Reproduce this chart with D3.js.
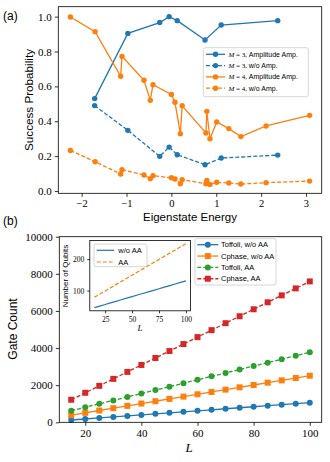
<!DOCTYPE html>
<html>
<head>
<meta charset="utf-8">
<script src="https://cdn.jsdelivr.net/npm/d3@7"></script>
<style>
  body { margin: 0; background: #fff; }
  svg { display: block; }
  .tick text { font-family: 'Liberation Serif', serif; }
</style>
</head>
<body>
<div id="chart"></div>
<script>
// panel (a)
const energyM3 = [-1.71, -0.97, -0.26, -0.05, 0.13, 0.75, 1.11, 2.37];
const probM3Amp = [0.53, 0.904, 0.966, 1.0, 0.977, 0.866, 0.952, 0.977];
const probM3NoAmp = [0.49, 0.348, 0.199, 0.252, 0.208, 0.151, 0.189, 0.206];
const energyM4 = [-2.25, -1.70, -1.13, -1.10, -0.61, -0.47, -0.41, 0.0, 0.08, 0.20, 0.24, 0.77, 0.79, 0.86, 1.01, 1.28, 1.55, 2.11, 3.08];
const probM4Amp = [0.998, 0.914, 0.658, 0.772, 0.635, 0.52, 0.61, 0.554, 0.509, 0.329, 0.489, 0.333, 0.457, 0.30, 0.396, 0.358, 0.312, 0.373, 0.434];
const probM4NoAmp = [0.233, 0.168, 0.098, 0.122, 0.092, 0.071, 0.088, 0.076, 0.069, 0.042, 0.065, 0.042, 0.061, 0.038, 0.050, 0.046, 0.040, 0.048, 0.057];
const legendA = ['3, Amplitude Amp.', '3, w/o Amp.', '4, Amplitude Amp.', '4, w/o Amp.'];

// panel (b)
const sizeL = [15, 20, 25, 30, 35, 40, 45, 50, 55, 60, 65, 70, 75, 80, 85, 90, 95, 100];
const toffoliNoAA = [124, 179, 234, 289, 344, 399, 454, 509, 564, 619, 674, 729, 784, 839, 894, 949, 1004, 1059];
const cphaseNoAA = [385, 510, 635, 760, 885, 1010, 1135, 1260, 1385, 1510, 1635, 1760, 1885, 2010, 2135, 2260, 2385, 2510];
const toffoliAA = [625, 810, 995, 1180, 1365, 1550, 1735, 1920, 2105, 2290, 2475, 2660, 2845, 3030, 3215, 3400, 3585, 3770];
const cphaseAA = [1215, 1590, 1965, 2340, 2715, 3090, 3465, 3840, 4215, 4590, 4965, 5340, 5715, 6090, 6465, 6840, 7215, 7590];
const legendB = ['Toffoli, w/o AA', 'Cphase, w/o AA', 'Toffoli, AA', 'Cphase, AA'];

// inset
const qubitsNoAA = [46, 51, 56, 61, 66, 71, 76, 81, 86, 91, 96, 101, 106, 111, 116, 121, 126, 131];
const qubitsAA = [79, 89, 99, 109, 119, 129, 139, 149, 159, 169, 179, 189, 199, 209, 219, 229, 239, 249];
const legendInset = ['w/o AA', 'AA'];

const blue = '#1f77b4', orange = '#ff7f0e', green = '#2ca02c', red = '#d62728';
const sans = "'Liberation Sans', Arial, sans-serif";
const serif = "'Liberation Serif', serif";

const svg = d3.select('#chart').append('svg')
  .attr('width', 330)
  .attr('height', 462);

function frame(g, x0, y0, x1, y1) {
  g.append('rect')
    .attr('x', x0).attr('y', y0)
    .attr('width', x1 - x0).attr('height', y1 - y0)
    .attr('fill', 'none')
    .attr('stroke', '#000')
    .attr('stroke-width', 0.8);
}

function styleAxis(g, size) {
  g.select('.domain').remove();
  g.selectAll('.tick line').attr('stroke-width', 0.8);
  g.selectAll('.tick text').attr('font-size', size).attr('fill', '#000');
}

function series(g, xs, ys, sx, sy, color, dashed, shape, r) {
  const pts = xs.map((x, i) => [sx(x), sy(ys[i])]);
  g.append('path')
    .attr('d', d3.line()(pts))
    .attr('fill', 'none')
    .attr('stroke', color)
    .attr('stroke-width', 1.3)
    .attr('stroke-dasharray', dashed ? '4,2' : null);
  g.selectAll(null).data(pts).enter()
    .append('path')
    .attr('transform', d => 'translate(' + d[0] + ',' + d[1] + ')')
    .attr('d', d3.symbol().type(shape === 'square' ? d3.symbolSquare : d3.symbolCircle).size(shape === 'square' ? (2 * r) * (2 * r) : Math.PI * r * r))
    .attr('fill', color);
}

// ---------- panel (a) ----------
const ax = d3.scaleLinear().domain([-2.52, 3.35]).range([58.3, 321.7]);
const ay = d3.scaleLinear().domain([-0.013, 1.057]).range([193.3, 6.7]);
const ga = svg.append('g');

series(ga, energyM3, probM3Amp, ax, ay, blue, false, 'circle', 2.7);
series(ga, energyM3, probM3NoAmp, ax, ay, blue, true, 'circle', 2.7);
series(ga, energyM4, probM4Amp, ax, ay, orange, false, 'circle', 2.7);
series(ga, energyM4, probM4NoAmp, ax, ay, orange, true, 'circle', 2.7);

const axA = ga.append('g').attr('transform', 'translate(0,193.3)')
  .call(d3.axisBottom(ax).tickValues([-2, -1, 0, 1, 2, 3]).tickSize(3.5)
    .tickFormat(d => d < 0 ? '\u2212' + Math.abs(d) : d));
styleAxis(axA, 10.5);
axA.selectAll('.tick text').attr('dy', '0.7em');
const ayA = ga.append('g').attr('transform', 'translate(58.3,0)')
  .call(d3.axisLeft(ay).tickValues([0, 0.2, 0.4, 0.6, 0.8, 1.0]).tickSize(3.5).tickFormat(d3.format('.1f')));
styleAxis(ayA, 11);
frame(ga, 58.3, 6.7, 321.7, 193.3);

ga.append('text').text('Eigenstate Energy')
  .attr('x', 190).attr('y', 220.5).attr('text-anchor', 'middle')
  .attr('font-family', sans).attr('font-size', 11.5);
ga.append('text').text('Success Probability')
  .attr('transform', 'translate(33,100) rotate(-90)').attr('text-anchor', 'middle')
  .attr('font-family', sans).attr('font-size', 11.7);
ga.append('text').text('(a)')
  .attr('x', 3).attr('y', 20)
  .attr('font-family', sans).attr('font-size', 12);

// legend (a)
const legA = ga.append('g');
legA.append('rect')
  .attr('x', 203.3).attr('y', 47.7).attr('width', 105).attr('height', 49)
  .attr('rx', 2).attr('fill', '#fff').attr('fill-opacity', 0.8)
  .attr('stroke', '#ccc').attr('stroke-width', 0.8);
const legAColors = [blue, blue, orange, orange];
legendA.forEach((label, i) => {
  const y = 54.3 + i * 11.3;
  legA.append('line')
    .attr('x1', 206).attr('x2', 225).attr('y1', y).attr('y2', y)
    .attr('stroke', legAColors[i]).attr('stroke-width', 1.3)
    .attr('stroke-dasharray', i % 2 ? '4,2' : null);
  legA.append('circle').attr('cx', 215.5).attr('cy', y).attr('r', 2.7).attr('fill', legAColors[i]);
  const t = legA.append('text').attr('x', 228.5).attr('y', y + 2.5).attr('font-size', 7);
  t.append('tspan').text('M').attr('font-family', serif).attr('font-style', 'italic');
  t.append('tspan').text(' = ' + label.split(', ')[0] + ', ').attr('font-family', serif);
  t.append('tspan').text(label.split(', ')[1]).attr('font-family', sans);
});

// ---------- panel (b) ----------
const bx = d3.scaleLinear().domain([10.75, 104.25]).range([59.3, 321.7]);
const by = d3.scaleLinear().domain([0, 10000]).range([422.3, 236.7]);
const gb = svg.append('g');

series(gb, sizeL, toffoliNoAA, bx, by, blue, false, 'circle', 3);
series(gb, sizeL, cphaseNoAA, bx, by, orange, false, 'square', 3);
series(gb, sizeL, toffoliAA, bx, by, green, true, 'circle', 3);
series(gb, sizeL, cphaseAA, bx, by, red, true, 'square', 3);

const axB = gb.append('g').attr('transform', 'translate(0,422.3)')
  .call(d3.axisBottom(bx).tickValues([20, 40, 60, 80, 100]).tickSize(3.5));
styleAxis(axB, 11);
axB.selectAll('.tick text').attr('dy', '0.72em');
const ayB = gb.append('g').attr('transform', 'translate(59.3,0)')
  .call(d3.axisLeft(by).tickValues([0, 2000, 4000, 6000, 8000, 10000]).tickSize(3.5).tickFormat(d3.format('d')));
styleAxis(ayB, 11);
frame(gb, 59.3, 236.7, 321.7, 422.3);

gb.append('text').text('L')
  .attr('x', 189).attr('y', 452).attr('text-anchor', 'middle')
  .attr('font-family', serif).attr('font-style', 'italic').attr('font-size', 13);
gb.append('text').text('Gate Count')
  .attr('transform', 'translate(17,329) rotate(-90)').attr('text-anchor', 'middle')
  .attr('font-family', sans).attr('font-size', 12);
gb.append('text').text('(b)')
  .attr('x', 3).attr('y', 225)
  .attr('font-family', sans).attr('font-size', 12);

// legend (b)
const legB = gb.append('g');
legB.append('rect')
  .attr('x', 195).attr('y', 238.7).attr('width', 81).attr('height', 46.3)
  .attr('rx', 2).attr('fill', '#fff').attr('fill-opacity', 0.8)
  .attr('stroke', '#ccc').attr('stroke-width', 0.8);
const legBColors = [blue, orange, green, red];
legendB.forEach((label, i) => {
  const y = 244.7 + i * 11.35;
  legB.append('line')
    .attr('x1', 197.3).attr('x2', 218.3).attr('y1', y).attr('y2', y)
    .attr('stroke', legBColors[i]).attr('stroke-width', 1.3)
    .attr('stroke-dasharray', i > 1 ? '4,2' : null);
  legB.append('path')
    .attr('transform', 'translate(207.8,' + y + ')')
    .attr('d', d3.symbol().type(i % 2 ? d3.symbolSquare : d3.symbolCircle).size(i % 2 ? 36 : Math.PI * 9))
    .attr('fill', legBColors[i]);
  legB.append('text').text(label)
    .attr('x', 221).attr('y', y + 2.6)
    .attr('font-family', sans).attr('font-size', 7.5);
});

// ---------- inset ----------
const ix = d3.scaleLinear().domain([10.75, 104.25]).range([89.8, 190.5]);
const iy = d3.scaleLinear().domain([36, 259]).range([310.8, 240.5]);
const gi = svg.append('g');
gi.append('rect')
  .attr('x', 89.8).attr('y', 240.5).attr('width', 100.7).attr('height', 70.3)
  .attr('fill', '#fff');
gi.append('path')
  .attr('d', d3.line().x((d, i) => ix(sizeL[i])).y(d => iy(d))(qubitsNoAA))
  .attr('fill', 'none').attr('stroke', blue).attr('stroke-width', 1.2);
gi.append('path')
  .attr('d', d3.line().x((d, i) => ix(sizeL[i])).y(d => iy(d))(qubitsAA))
  .attr('fill', 'none').attr('stroke', orange).attr('stroke-width', 1.2)
  .attr('stroke-dasharray', '4,2');

const axI = gi.append('g').attr('transform', 'translate(0,310.8)')
  .call(d3.axisBottom(ix).tickValues([25, 50, 75, 100]).tickSize(2.5));
styleAxis(axI, 7.5);
axI.selectAll('.tick text').attr('dy', '0.72em');
const ayI = gi.append('g').attr('transform', 'translate(89.8,0)')
  .call(d3.axisLeft(iy).tickValues([100, 200]).tickSize(2.5));
styleAxis(ayI, 7.5);
frame(gi, 89.8, 240.5, 190.5, 310.8);

gi.append('text').text('L')
  .attr('x', 140).attr('y', 331).attr('text-anchor', 'middle')
  .attr('font-family', serif).attr('font-style', 'italic').attr('font-size', 9);
gi.append('text').text('Number of Qubits')
  .attr('transform', 'translate(68,276) rotate(-90)').attr('text-anchor', 'middle')
  .attr('font-family', sans).attr('font-size', 8);

const legI = gi.append('g');
legI.append('rect')
  .attr('x', 94).attr('y', 244).attr('width', 53).attr('height', 22.7)
  .attr('rx', 2).attr('fill', '#fff').attr('fill-opacity', 0.8)
  .attr('stroke', '#ccc').attr('stroke-width', 0.8);
legendInset.forEach((label, i) => {
  const y = 250.3 + i * 11.7;
  legI.append('line')
    .attr('x1', 96.7).attr('x2', 114.3).attr('y1', y).attr('y2', y)
    .attr('stroke', i ? orange : blue).attr('stroke-width', 1.2)
    .attr('stroke-dasharray', i ? '4,2' : null);
  legI.append('text').text(label)
    .attr('x', 118.3).attr('y', y + 2.6)
    .attr('font-family', sans).attr('font-size', 7.5);
});
</script>
</body>
</html>
